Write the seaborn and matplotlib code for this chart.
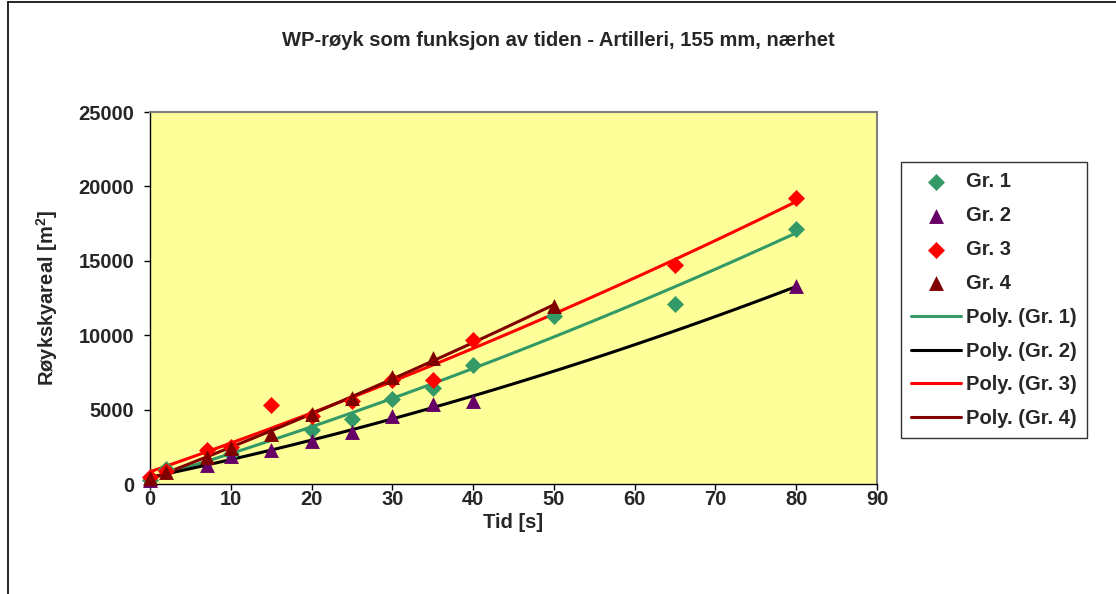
import matplotlib
matplotlib.use("Agg")
import matplotlib.pyplot as plt
import seaborn as sns
import numpy as np
import pandas as pd
from matplotlib.lines import Line2D

# ---- data ----
t1 = [0, 2, 10, 20, 25, 30, 35, 40, 50, 65, 80]
g1 = [300, 1000, 2000, 3600, 4400, 5700, 6450, 8000, 11300, 12100, 17150]

t2 = [0, 7, 10, 15, 20, 25, 30, 35, 40, 80]
g2 = [300, 1300, 1850, 2300, 2900, 3500, 4550, 5350, 5600, 13300]

t3 = [0, 2, 7, 10, 15, 20, 25, 30, 35, 40, 65, 80]
g3 = [500, 900, 2300, 2500, 5300, 4600, 5600, 7000, 7000, 9700, 14700, 19250]

t4 = [0, 2, 7, 10, 15, 20, 25, 30, 35, 50]
g4 = [400, 800, 1800, 2450, 3350, 4700, 5800, 7200, 8450, 11950]

series_names = ["Gr. 1", "Gr. 2", "Gr. 3", "Gr. 4"]
x_ticks = [0, 10, 20, 30, 40, 50, 60, 70, 80, 90]
y_ticks = [0, 5000, 10000, 15000, 20000, 25000]

title = "WP-røyk som funksjon av tiden - Artilleri, 155 mm, nærhet"
xlabel = "Tid [s]"
ylabel = "Røykskyareal [m$^\\mathbf{2}$]"

# ---- style ----
sns.set_style("white")
plt.rcParams["font.family"] = ["Liberation Sans", "DejaVu Sans"]
plt.rcParams["font.weight"] = "bold"
plt.rcParams["mathtext.fontset"] = "custom"
plt.rcParams["mathtext.rm"] = "Liberation Sans:bold"
plt.rcParams["mathtext.bf"] = "Liberation Sans:bold"
plt.rcParams["mathtext.default"] = "bf"

FS = 14.5
marker_colors = ["#339966", "#660066", "#FF0000", "#800000"]
line_colors = ["#339966", "#000000", "#FF0000", "#800000"]
markers = ["D", "^", "D", "^"]
msizes = [75, 115, 75, 115]

W, H = 1116, 594
fig = plt.figure(figsize=(W / 100, H / 100), dpi=100)
fig.patch.set_facecolor("white")

L, R, T, B = 150, 877, 112, 484
ax = fig.add_axes([L / W, 1 - B / H, (R - L) / W, (B - T) / H])
ax.set_facecolor("#FFFF99")

data = [(t1, g1), (t2, g2), (t3, g3), (t4, g4)]

# trend lines (2nd order polynomial fits, as Excel "Poly.")
for i, (t, g) in enumerate(data):
    df = pd.DataFrame({"t": t, "g": g})
    sns.regplot(data=df, x="t", y="g", order=2, ci=None, scatter=False,
                truncate=True, ax=ax,
                line_kws=dict(color=line_colors[i], lw=2.2, zorder=2),
                label="Poly. (" + series_names[i] + ")")

# markers
for i, (t, g) in enumerate(data):
    df = pd.DataFrame({"t": t, "g": g})
    sns.scatterplot(data=df, x="t", y="g", marker=markers[i], s=msizes[i],
                    color=marker_colors[i], edgecolor=marker_colors[i],
                    linewidth=0, ax=ax, zorder=3 + i, label=series_names[i],
                    clip_on=False, legend=False)

ax.set_xlim(0, 90)
ax.set_ylim(0, 25000)
ax.set_xticks(x_ticks)
ax.set_yticks(y_ticks)
ax.set_xticklabels([str(v) for v in x_ticks], fontsize=FS, fontweight="bold")
ax.set_yticklabels([str(v) for v in y_ticks], fontsize=FS, fontweight="bold")
ax.tick_params(axis="both", direction="out", length=4.5, width=1, color="black",
               bottom=True, left=True)
ax.tick_params(axis="x", pad=0)
ax.tick_params(axis="y", pad=7)
ax.set_xlabel(xlabel, fontsize=FS, fontweight="bold", labelpad=3)
ax.set_ylabel(ylabel, fontsize=FS, fontweight="bold", labelpad=13)
ax.grid(False)
if ax.get_legend() is not None:
    ax.get_legend().remove()

for side in ["left", "bottom"]:
    ax.spines[side].set_color("black")
    ax.spines[side].set_linewidth(1.0)
for side in ["top", "right"]:
    ax.spines[side].set_color("#808080")
    ax.spines[side].set_linewidth(1.5)

fig.text(0.5, 1 - 40 / H, title, ha="center", va="center", fontsize=FS,
         fontweight="bold")

# legend
handles, labels = ax.get_legend_handles_labels()
order = series_names + ["Poly. (" + n + ")" for n in series_names]
hmap = dict(zip(labels, handles))
leg = fig.legend([hmap[k] for k in order], order, loc="upper left",
                 bbox_to_anchor=(901 / W, 1 - 162 / H), borderaxespad=0,
                 frameon=True, fancybox=False, edgecolor="black",
                 handlelength=2.5, handletextpad=0.25,
                 labelspacing=0.74, borderpad=0.5, scatterpoints=1,
                 prop=dict(weight="bold", size=FS))
leg.get_frame().set_linewidth(1.0)

# outer chart border (top and left visible)
fig.add_artist(Line2D([8 / W, 8 / W], [0, 1 - 2 / H], transform=fig.transFigure,
                      color="black", lw=1.2))
fig.add_artist(Line2D([8 / W, 1], [1 - 2 / H, 1 - 2 / H], transform=fig.transFigure,
                      color="black", lw=1.2))

fig.savefig("out.png", dpi=100)
